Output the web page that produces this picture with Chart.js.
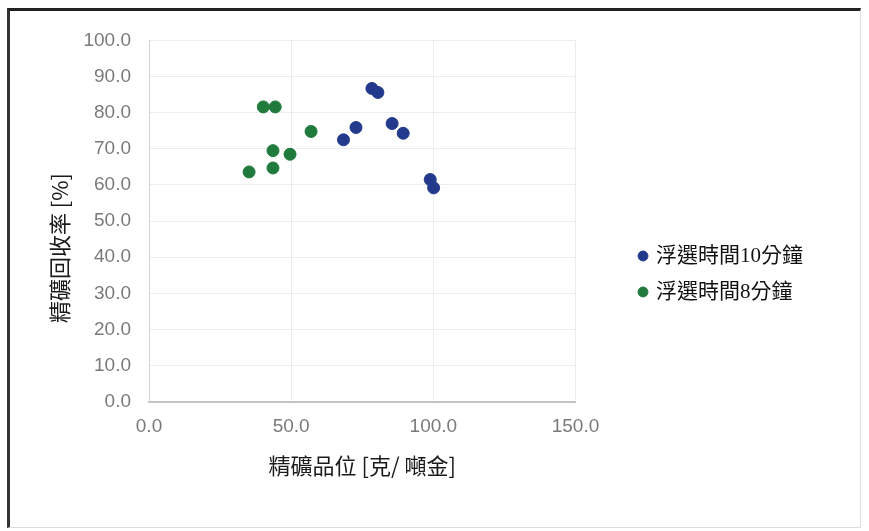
<!DOCTYPE html>
<html>
<head>
<meta charset="utf-8">
<script src="https://cdn.jsdelivr.net/npm/chart.js@4/dist/chart.umd.min.js"></script>
<style>
    html, body { margin: 0; padding: 0; background: #fff; }
    #frame {
        position: absolute;
        left: 7px;
        top: 8px;
        width: 850px;
        height: 516px;
        border-top: 3px solid #222;
        border-left: 3px solid #333;
        border-right: 1px solid #ddd;
        border-bottom: 1px solid #ddd;
    }
</style>
</head>
<body>
<div id="frame"><canvas id="flotation-chart"></canvas></div>
<script>
// values
const seriesNames = ['浮選時間10分鐘', '浮選時間8分鐘'];
const grade10 = [78.4, 80.5, 68.4, 72.8, 85.5, 89.4, 98.9, 100.1];
const recovery10 = [86.7, 85.6, 72.5, 75.9, 77.0, 74.3, 61.5, 59.2];
const grade8 = [40.2, 44.4, 57.0, 43.6, 49.6, 35.2, 43.6];
const recovery8 = [81.6, 81.6, 74.8, 69.5, 68.5, 63.6, 64.7];
const xTickValues = [0, 50, 100, 150];
const yTickValues = [0, 10, 20, 30, 40, 50, 60, 70, 80, 90, 100];
const xTitle = '精礦品位 [克/ 噸金]';
const yTitle = '精礦回收率 [%]';

const seriesColors = ['#233a8c', '#1f7a3c'];

function toPoints(xs, ys) {
    return xs.map((x, i) => ({ x: x, y: ys[i] }));
}

const tickFont = { family: "'Liberation Sans', Arial, sans-serif", size: 19 };
const titleFont = { family: "'Noto Sans CJK TC', sans-serif", size: 22 };

// the legend sits a little further right of the plot than Chart.js puts it
const legendShift = {
    id: 'legendShift',
    afterLayout: chart => {
        if (chart.legend) {
            chart.legend.left += 50;
            chart.legend.right += 50;
        }
    }
};

const ctx = document.getElementById('flotation-chart').getContext('2d');
const chart = new Chart(ctx, {
    type: 'scatter',
    data: {
        datasets: [
            {
                label: seriesNames[0],
                data: toPoints(grade10, recovery10),
                backgroundColor: seriesColors[0],
                borderColor: seriesColors[0],
                pointRadius: 6,
                pointHoverRadius: 6
            },
            {
                label: seriesNames[1],
                data: toPoints(grade8, recovery8),
                backgroundColor: seriesColors[1],
                borderColor: seriesColors[1],
                pointRadius: 6,
                pointHoverRadius: 6
            }
        ]
    },
    plugins: [legendShift],
    options: {
        responsive: true,
        maintainAspectRatio: false,
        animation: false,
        layout: {
            padding: { top: 27, bottom: 17, left: 0, right: 97 }
        },
        scales: {
            x: {
                type: 'linear',
                position: 'bottom',
                min: 0,
                max: 150,
                afterBuildTicks: scale => {
                    scale.ticks = xTickValues.map(v => ({ value: v }));
                },
                ticks: {
                    color: '#7a7a7a',
                    font: tickFont,
                    padding: 14,
                    callback: value => value.toFixed(1)
                },
                grid: { color: '#ececec', drawTicks: false },
                border: { color: '#c4c4c4', width: 2 },
                title: {
                    display: true,
                    text: xTitle,
                    color: '#1a1a1a',
                    font: titleFont,
                    padding: { top: 0, bottom: 31 }
                }
            },
            y: {
                type: 'linear',
                position: 'left',
                min: 0,
                max: 100,
                afterBuildTicks: scale => {
                    scale.ticks = yTickValues.map(v => ({ value: v }));
                },
                afterFit: scale => {
                    scale.width = 139;
                },
                ticks: {
                    color: '#7a7a7a',
                    font: tickFont,
                    padding: 18,
                    callback: value => value.toFixed(1)
                },
                grid: { color: '#ececec', drawTicks: false },
                border: { color: '#d4d4d4', width: 1 },
                title: {
                    display: true,
                    // trailing spaces push the visible label down along the axis
                    text: yTitle + '\u3000\u3000  ',
                    color: '#1a1a1a',
                    font: titleFont,
                    padding: { top: 36, bottom: 0 }
                }
            }
        },
        plugins: {
            legend: {
                position: 'right',
                align: 'center',
                labels: {
                    usePointStyle: true,
                    pointStyle: 'circle',
                    boxWidth: 5,
                    boxHeight: 7,
                    padding: 15,
                    color: '#111',
                    font: { family: "'Liberation Serif', 'Noto Sans CJK TC', serif", size: 21 }
                }
            },
            tooltip: { enabled: false }
        }
    }
});
</script>
</body>
</html>
